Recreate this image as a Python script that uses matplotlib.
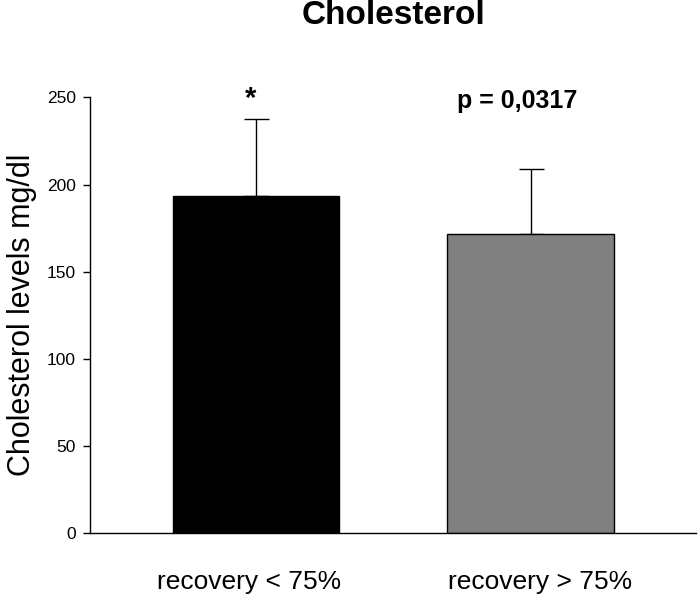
import matplotlib
matplotlib.use("Agg")
import matplotlib.pyplot as plt

plt.rcParams['font.family'] = ['Liberation Sans', 'DejaVu Sans']

categories = ["recovery < 75%", "recovery > 75%"]
values = [193.5, 171.6]
errors_up = [44.2, 37.2]
colors = ["#000000", "#808080"]
annotations = ["*", "p = 0,0317"]
yticks = [0, 50, 100, 150, 200, 250]

W, H = 700, 598
fig = plt.figure(figsize=(W / 100, H / 100), dpi=100)
ax = fig.add_axes([90 / W, 65 / H, (696 - 90) / W, (533 - 97.5) / H])

x = list(range(len(categories)))
ax.bar(x, values, width=0.605, color=colors, edgecolor="black", linewidth=1.0, zorder=2)
ax.errorbar(x, values, yerr=[[0] * len(values), errors_up], fmt="none",
            ecolor="black", elinewidth=1.0, capsize=9, capthick=1.0, zorder=1)

ax.set_xlim(-0.605, 1.603)
ax.set_ylim(0, 250)
ax.set_yticks(yticks)
label_offsets = [-0.025, 0.035]
ax.set_xticks([xi + o for xi, o in zip(x, label_offsets)])
ax.set_xticklabels(categories, fontsize=19)
ax.tick_params(axis="x", length=0, pad=27)
ax.tick_params(axis="y", direction="out", length=5, width=1, labelsize=12.5, pad=5)
for s in ["top", "right"]:
    ax.spines[s].set_visible(False)
ax.spines["left"].set_linewidth(1)
ax.spines["bottom"].set_linewidth(1)

ax.set_ylabel("Cholesterol levels mg/dl", fontsize=22, va="center", ha="center")
ax.yaxis.set_label_coords((22 - 90) / 606, 0.5)

fig.text(393.5 / W, 1 - 16 / H, "Cholesterol", fontsize=24, fontweight="bold",
         ha="center", va="center")

# annotations above bars
ax.text(x[0] - 0.02, 249, annotations[0], fontsize=21, fontweight="bold",
        ha="center", va="center")
ax.text(x[1] - 0.047, 248, annotations[1], fontsize=18, fontweight="bold",
        ha="center", va="center")

fig.savefig("out.png", dpi=100)
